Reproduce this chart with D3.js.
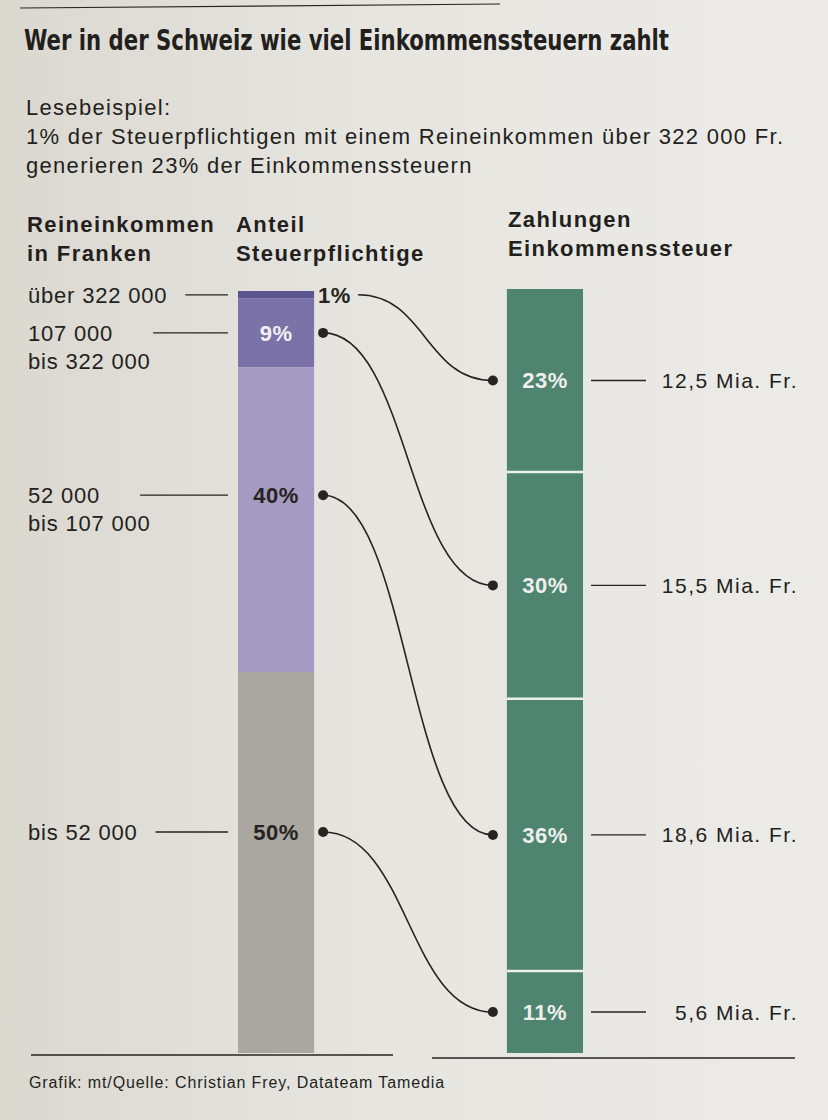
<!DOCTYPE html>
<html>
<head>
<meta charset="utf-8">
<script src="https://cdn.jsdelivr.net/npm/d3@7"></script>
<style>
  body { margin: 0; background: #e6e4de; }
  text { font-family: "Liberation Sans", Arial, sans-serif; fill: #231f1d; }
</style>
</head>
<body>
<script>
// Reineinkommen-Klassen, Anteil Steuerpflichtige und Zahlungen Einkommenssteuer
const incomeGroups = [["über 322 000"], ["107 000", "bis 322 000"], ["52 000", "bis 107 000"], ["bis 52 000"]];
const taxpayerShare = [1, 9, 40, 50];       // % der Steuerpflichtigen
const taxShare = [23, 30, 36, 11];          // % der Einkommenssteuern
const taxAmount = [12.5, 15.5, 18.6, 5.6];  // Mia. Fr.
const groupColors = ["#5b5690", "#7b72a8", "#a59ac2", "#a9a79f"];
const taxColor = "#4f8471";

const width = 828, height = 1120;
const chf = d3.formatLocale({decimal: ",", thousands: " ", grouping: [3], currency: ["", ""]});
const fmtAmount = d => chf.format(".1f")(d) + " Mia. Fr.";

const svg = d3.select("body").append("svg")
    .attr("width", width)
    .attr("height", height);

// Papier
const grad = svg.append("defs").append("linearGradient").attr("id", "paper");
grad.append("stop").attr("offset", "0%").attr("stop-color", "#dbd8d0");
grad.append("stop").attr("offset", "45%").attr("stop-color", "#e6e5e0");
grad.append("stop").attr("offset", "100%").attr("stop-color", "#ecebe7");
svg.append("rect").attr("width", width).attr("height", height).attr("fill", "url(#paper)");
svg.append("line").attr("x1", 20).attr("y1", 8).attr("x2", 500).attr("y2", 4)
    .attr("stroke", "#2a2724").attr("stroke-width", 1.2);

// Titel und Lesebeispiel
svg.append("text").attr("x", 24).attr("y", 50)
    .attr("textLength", 645).attr("lengthAdjust", "spacingAndGlyphs")
    .style("font-family", "'Liberation Sans Narrow', 'DejaVu Sans Condensed', sans-serif")
    .style("font-weight", "bold").style("font-size", "28px")
    .text("Wer in der Schweiz wie viel Einkommenssteuern zahlt");

const intro = ["Lesebeispiel:",
  "1% der Steuerpflichtigen mit einem Reineinkommen über 322 000 Fr.",
  "generieren 23% der Einkommenssteuern"];
svg.selectAll("text.intro").data(intro).join("text")
    .attr("class", "intro")
    .attr("x", 26).attr("y", (d, i) => 115 + i * 29)
    .style("font-size", "22px").style("letter-spacing", "1.3px")
    .text(d => d);

// Spaltenköpfe
const heads = [
  {x: 27, y: 232, lines: ["Reineinkommen", "in Franken"]},
  {x: 236, y: 232, lines: ["Anteil", "Steuerpflichtige"]},
  {x: 508, y: 227, lines: ["Zahlungen", "Einkommenssteuer"]}
];
heads.forEach(h => {
  svg.append("text").attr("x", h.x).attr("y", h.y)
      .style("font-size", "22px").style("font-weight", "bold").style("letter-spacing", "1.4px")
    .selectAll("tspan").data(h.lines).join("tspan")
      .attr("x", h.x).attr("dy", (d, i) => i ? 29 : 0)
      .text(d => d);
});

// Skalen
const x = d3.scaleBand().domain(["anteil", "zahlungen"]).range([238, 583]).paddingInner(0.717);
const yL = d3.scaleLinear().domain([0, d3.sum(taxpayerShare)]).range([291, 1053]);
const yR = d3.scaleLinear().domain([0, d3.sum(taxAmount)]).range([289, 1053]);
const bw = x.bandwidth();

const leftStack = taxpayerShare.map((v, i) => {
  const end = d3.cumsum(taxpayerShare)[i];
  return {i, v, start: end - v, end};
});
const rightStack = taxAmount.map((v, i) => {
  const end = d3.cumsum(taxAmount)[i];
  return {i, v, share: taxShare[i], start: end - v, end};
});

// linker Balken
const xl = x("anteil");
svg.append("g").selectAll("rect").data(leftStack).join("rect")
    .attr("x", xl).attr("width", bw)
    .attr("y", d => yL(d.start))
    .attr("height", d => yL(d.end) - yL(d.start))
    .attr("fill", d => groupColors[d.i]);

// rechter Balken
const xr = x("zahlungen");
svg.append("g").selectAll("rect").data(rightStack).join("rect")
    .attr("x", xr).attr("width", bw)
    .attr("y", d => yR(d.start))
    .attr("height", d => yR(d.end) - yR(d.start))
    .attr("fill", taxColor);
svg.append("g").selectAll("line").data(rightStack.slice(1)).join("line")
    .attr("x1", xr).attr("x2", xr + bw)
    .attr("y1", d => yR(d.start)).attr("y2", d => yR(d.start))
    .attr("stroke", "#eeeeea").attr("stroke-width", 2.5);

// Position der Beschriftung im linken Balken (kleine Segmente mittig)
const labelY = d => yL(d.start + d.v * (d.v < 20 ? 0.5 : 0.42));
const outside = d => d.v < 5;
const rightY = d => yR((d.start + d.end) / 2);

// Prozentangaben links
svg.append("g").selectAll("text").data(leftStack).join("text")
    .attr("x", d => outside(d) ? xl + bw + 4 : xl + bw / 2)
    .attr("y", labelY).attr("dy", "0.36em")
    .attr("text-anchor", d => outside(d) ? "start" : "middle")
    .style("font-size", "22px").style("font-weight", "bold").style("letter-spacing", "0.5px")
    .style("fill", d => !outside(d) && d3.lab(groupColors[d.i]).l < 56 ? "#f1f0f4" : "#262321")
    .text(d => d.v + "%");

// Prozentangaben rechts
svg.append("g").selectAll("text").data(rightStack).join("text")
    .attr("x", xr + bw / 2).attr("y", rightY).attr("dy", "0.36em")
    .attr("text-anchor", "middle")
    .style("font-size", "22px").style("font-weight", "bold").style("letter-spacing", "0.5px")
    .style("fill", "#eef0ec")
    .text(d => d.share + "%");

// Einkommensklassen
const groupLabels = svg.append("g").selectAll("g").data(leftStack).join("g");
groupLabels.each(function(d) {
  const g = d3.select(this);
  const lines = incomeGroups[d.i];
  const t = g.append("text").attr("x", 28).attr("y", labelY(d))
      .style("font-size", "22px").style("letter-spacing", "0.8px");
  t.selectAll("tspan").data(lines).join("tspan")
      .attr("x", 28).attr("dy", (s, k) => k ? 28 : "0.36em")
      .text(s => s);
  const firstW = t.select("tspan").node().getComputedTextLength();
  const x0 = 28 + firstW + (lines.length > 1 ? 40 : 18);
  g.append("line")
      .attr("x1", x0).attr("x2", xl - 10)
      .attr("y1", labelY(d)).attr("y2", labelY(d))
      .attr("stroke", "#262321").attr("stroke-width", 1.3);
});

// Beträge rechts
svg.append("g").selectAll("line").data(rightStack).join("line")
    .attr("x1", xr + bw + 8).attr("x2", xr + bw + 63)
    .attr("y1", rightY).attr("y2", rightY)
    .attr("stroke", "#262321").attr("stroke-width", 1.3);
svg.append("g").selectAll("text").data(rightStack).join("text")
    .attr("x", 798).attr("y", rightY).attr("dy", "0.36em")
    .attr("text-anchor", "end")
    .style("font-size", "21px").style("letter-spacing", "1.5px")
    .text(d => fmtAmount(d.v));

// Verbindungslinien
const link = d3.linkHorizontal();
const pairs = leftStack.map((d, i) => ({
  out: outside(d),
  source: [outside(d) ? xl + bw + 44 : xl + bw + 9, labelY(d)],
  target: [xr - 14, rightY(rightStack[i])]
}));
svg.append("g").selectAll("path").data(pairs).join("path")
    .attr("d", link)
    .attr("fill", "none").attr("stroke", "#262321").attr("stroke-width", 1.6);
const dots = pairs.flatMap(p => p.out ? [p.target] : [p.source, p.target]);
svg.append("g").selectAll("circle").data(dots).join("circle")
    .attr("cx", d => d[0]).attr("cy", d => d[1]).attr("r", 5)
    .attr("fill", "#262321");

// Grundlinien
svg.append("line").attr("x1", 31).attr("x2", 393).attr("y1", 1055).attr("y2", 1055)
    .attr("stroke", "#262321").attr("stroke-width", 1.5);
svg.append("line").attr("x1", 432).attr("x2", 795).attr("y1", 1058).attr("y2", 1058)
    .attr("stroke", "#262321").attr("stroke-width", 1.5);

// Quelle
svg.append("text").attr("x", 29).attr("y", 1082).attr("dy", "0.36em")
    .style("font-size", "16px").style("letter-spacing", "0.9px")
    .text("Grafik: mt/Quelle: Christian Frey, Datateam Tamedia");
</script>
</body>
</html>
